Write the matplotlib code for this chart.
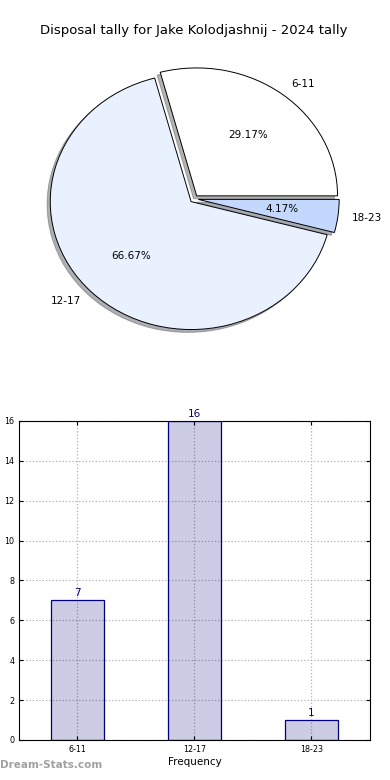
import numpy as np
import matplotlib.pyplot as plt

# disposal tally buckets
labels = ['6-11', '12-17', '18-23']
counts = [7, 16, 1]
pie_colors = ['#ffffff', '#eaf1fe', '#c4d8fe']
explode = [0.03, 0.03, 0.03]

fig = plt.figure(figsize=(3.9, 7.8), dpi=100)

# pie on top (old style, not forced round)
ax1 = fig.add_axes([0.0462, 0.54, 0.903, 0.41])
ax1.pie(counts, labels=labels, colors=pie_colors, explode=explode,
        autopct='%1.2f%%', startangle=0,
        shadow={'ox': -0.016, 'oy': -0.016, 'shade': 0.6},
        wedgeprops={'edgecolor': 'black', 'linewidth': 0.7},
        textprops={'fontsize': 7.5})
ax1.set_aspect('auto')
ax1.set_xlim(-1.25, 1.25)
ax1.set_ylim(-1.25, 1.25)
fig.text(0.497, 0.961, 'Disposal tally for Jake Kolodjashnij - 2024 tally',
         ha='center', va='center', fontsize=9.5)

# bar chart below
ax2 = fig.add_axes([0.0487, 0.0513, 0.9, 0.409])
x = np.arange(len(labels))
ax2.bar(x, counts, width=0.45, color='navy', alpha=0.2)
ax2.bar(x, counts, width=0.45, fill=False, edgecolor='navy', linewidth=0.9)
for xi, c in zip(x, counts):
    ax2.text(xi, c + 0.12, str(c), ha='center', va='bottom', color='navy', fontsize=7.5)
ax2.set_xlim(-0.5, 2.5)
ax2.set_ylim(0, 16)
ax2.set_xticks(x)
ax2.set_xticklabels(labels)
ax2.set_yticks(range(0, 17, 2))
ax2.tick_params(labelsize=5.8, direction='in', top=True, right=True, length=3)
ax2.grid(True, linestyle=':', color='#b0b0b0', linewidth=0.9)
ax2.set_axisbelow(True)
ax2.set_xlabel('Frequency', fontsize=7.5, labelpad=2)
ax2.set_ylabel('Disposal Tally', fontsize=7.5)
ax2.yaxis.set_label_coords(-0.062, 0.5)

fig.text(0.0, 0.013, 'Dream-Stats.com', color='#a0a0a0', fontsize=7.5,
         fontweight='bold', ha='left', va='bottom')

fig.savefig('out.png', dpi=100)
